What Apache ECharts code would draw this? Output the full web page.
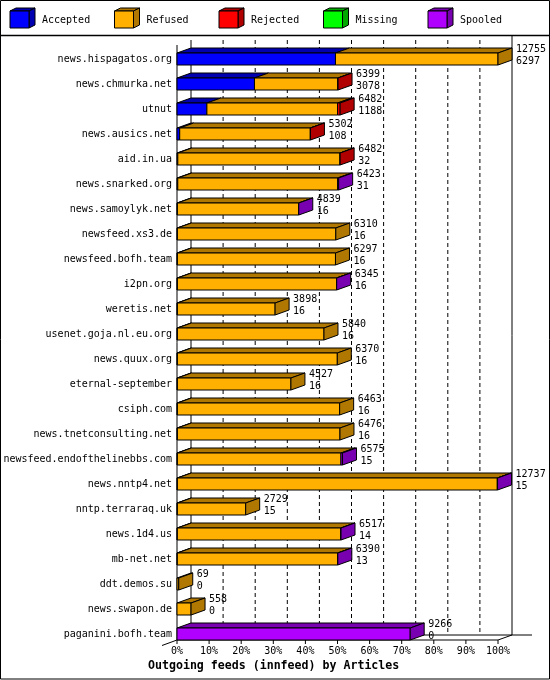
<!DOCTYPE html>
<html>
<head>
<meta charset="utf-8">
<script src="https://cdn.jsdelivr.net/npm/echarts@6/dist/echarts.min.js"></script>
<style>
html,body{margin:0;padding:0;background:#fff;}
#chart{width:550px;height:680px;}
</style>
</head>
<body>
<div id="chart"></div>
<script>
// ---- data ----
const hosts = [
  'news.hispagatos.org','news.chmurka.net','utnut','news.ausics.net','aid.in.ua',
  'news.snarked.org','news.samoylyk.net','newsfeed.xs3.de','newsfeed.bofh.team','i2pn.org',
  'weretis.net','usenet.goja.nl.eu.org','news.quux.org','eternal-september','csiph.com',
  'news.tnetconsulting.net','newsfeed.endofthelinebbs.com','news.nntp4.net','nntp.terraraq.uk','news.1d4.us',
  'mb-net.net','ddt.demos.su','news.swapon.de','paganini.bofh.team'
];
const offered  = [12755,6399,6482,5302,6482,6423,4839,6310,6297,6345,3898,5840,6370,4527,6463,6476,6575,12737,2729,6517,6390,69,558,9266];
const accepted = [6297,3078,1188,108,32,31,16,16,16,16,16,16,16,16,16,16,15,15,15,14,13,0,0,0];
const refused  = [6458,3316,5194,5191,6448,6352,4820,6294,6281,6326,3882,5824,6354,4511,6447,6460,6500,12712,2714,6498,6372,69,558,0];
const rejected = [0,5,100,3,2,0,0,0,0,0,0,0,0,0,0,0,0,0,0,0,0,0,0,0];
const missing  = [0,0,0,0,0,0,0,0,0,0,0,0,0,0,0,0,0,0,0,0,0,0,0,0];
const spooled  = [0,0,0,0,0,40,3,0,0,3,0,0,0,0,0,0,60,10,0,5,5,0,0,9266];
const statusNames = ['Accepted','Refused','Rejected','Missing','Spooled'];
const frontColors = ['#0000ff','#ffb000','#ff0000','#00ff00','#b000ff'];
const darkColors  = ['#0000b0','#b07800','#b00000','#00a800','#7800b0'];
const tickPercents = [0,10,20,30,40,50,60,70,80,90,100];
const xTitle = 'Outgoing feeds (innfeed) by Articles';

// ---- derived ----
const FONT = '"DejaVu Sans Mono", monospace';
const DX = 14, DY = -5, HH = 6;
const maxOff = Math.max(...offered);
const seriesVals = [accepted, refused, rejected, missing, spooled];

function lastNonZero(i){
  let l = -1;
  for (let k = 0; k < seriesVals.length; k++) if (seriesVals[k][i] > 0) l = k;
  return l;
}

const segSeries = statusNames.map((name, k) => {
  const data = [];
  hosts.forEach((h, i) => {
    let start = 0;
    for (let j = 0; j < k; j++) start += seriesVals[j][i];
    const v = seriesVals[k][i];
    if (v > 0) data.push([i, start / maxOff * 100, (start + v) / maxOff * 100, lastNonZero(i) === k ? 1 : 0]);
  });
  return {
    type: 'custom', name: name, z: 3, clip: false,
    data: data,
    encode: { x: [1, 2], y: 0 },
    renderItem: function (params, api) {
      const ci = api.value(0), s = api.value(1), e = api.value(2), last = api.value(3);
      const p0 = api.coord([s, ci]), p1 = api.coord([e, ci]);
      const yc = p0[1];
      const st = { stroke: '#000', lineWidth: 1 };
      const children = [
        { type: 'polygon', shape: { points: [[p0[0], yc - HH], [p1[0], yc - HH], [p1[0] + DX, yc - HH + DY], [p0[0] + DX, yc - HH + DY]] },
          style: Object.assign({ fill: darkColors[k] }, st) },
        { type: 'rect', shape: { x: p0[0], y: yc - HH, width: p1[0] - p0[0], height: 2 * HH },
          style: Object.assign({ fill: frontColors[k] }, st) }
      ];
      if (last) {
        children.push({ type: 'polygon', shape: { points: [[p1[0], yc - HH], [p1[0] + DX, yc - HH + DY], [p1[0] + DX, yc + HH + DY], [p1[0], yc + HH]] },
          style: Object.assign({ fill: darkColors[k] }, st) });
      }
      return { type: 'group', children: children };
    }
  };
});

const labelSeries = {
  type: 'custom', name: 'labels', z: 4, clip: false,
  data: hosts.map((h, i) => [i, offered[i] / maxOff * 100, offered[i], accepted[i]]),
  encode: { x: 1, y: 0 },
  renderItem: function (params, api) {
    const p = api.coord([api.value(1), api.value(0)]);
    const x = p[0] + DX + 4;
    return { type: 'group', children: [
      { type: 'text', style: { text: String(api.value(2)), x: x, y: p[1] - 10, fill: '#000', font: '10px ' + FONT, align: 'left', verticalAlign: 'middle' } },
      { type: 'text', style: { text: String(api.value(3)), x: x, y: p[1] + 2, fill: '#000', font: '10px ' + FONT, align: 'left', verticalAlign: 'middle' } }
    ]};
  }
};

const frameSeries = {
  type: 'custom', name: 'frame', z: 1, clip: false, silent: true,
  data: [[0, 0]],
  renderItem: function (params, api) {
    const cs = params.coordSys;
    const last = hosts.length - 1;
    const yF = api.coord([0, last])[1] + HH;     // floor front edge
    const yTop = cs.y - 1.5;
    const x0 = api.coord([0, 0])[0], x100 = api.coord([100, 0])[0];
    const ch = [];
    const line = (a, b, c, d, dash) => ch.push({ type: 'line', shape: { x1: a, y1: b, x2: c, y2: d },
      style: { stroke: '#000', lineWidth: 1, lineDash: dash || null } });
    tickPercents.forEach(t => {
      const x = api.coord([t, 0])[0];
      if (t > 0 && t < 100) line(x + DX, yTop + DY, x + DX, yF + DY, [4, 3]);
      line(x, yF, x, yF + 4);
    });
    line(x0, yTop, x0, yF);
    line(x0 + DX, yTop + DY, x0 + DX, yF + DY);
    line(x100 + DX, 36, x100 + DX, yF + DY);
    line(x0, yF, x100, yF);
    line(x0 + DX, yF + DY, x100 + DX + 20, yF + DY);
    line(x100, yF, x100 + DX, yF + DY);
    line(x0 - 15, yF + 5.5, x0, yF);
    return { type: 'group', children: ch };
  }
};

// legend graphics
const legendGraphics = [];
statusNames.forEach((n, k) => {
  const x = 10 + k * 104.5, y = 11, w = 19, h = 17, dx = 6, dy = -3;
  legendGraphics.push({ type: 'polygon', shape: { points: [[x, y], [x + w, y], [x + w + dx, y + dy], [x + dx, y + dy]] }, style: { fill: darkColors[k], stroke: '#000', lineWidth: 1 } });
  legendGraphics.push({ type: 'polygon', shape: { points: [[x + w, y], [x + w + dx, y + dy], [x + w + dx, y + h + dy], [x + w, y + h]] }, style: { fill: darkColors[k], stroke: '#000', lineWidth: 1 } });
  legendGraphics.push({ type: 'rect', shape: { x: x, y: y, width: w, height: h }, style: { fill: frontColors[k], stroke: '#000', lineWidth: 1 } });
  legendGraphics.push({ type: 'text', style: { text: n, x: x + 32, y: y + h / 2 + 0.5, fill: '#000', font: '10px ' + FONT, verticalAlign: 'middle' } });
});
legendGraphics.push({ type: 'line', shape: { x1: 0, y1: 35.5, x2: 550, y2: 35.5 }, style: { stroke: '#000', lineWidth: 1.5 } });
legendGraphics.push({ type: 'rect', shape: { x: 0.5, y: 0.5, width: 549, height: 678.5 }, style: { fill: null, stroke: '#000', lineWidth: 1 } });

const chart = echarts.init(document.getElementById('chart'), null, { renderer: 'canvas' });
chart.setOption({
  animation: false,
  backgroundColor: '#fff',
  title: { text: xTitle, left: 148, top: 660, padding: 0, textStyle: { fontFamily: FONT, fontSize: 11.6, fontWeight: 'bold', color: '#000' } },
  graphic: legendGraphics,
  grid: { left: 177, right: 52, top: 46.5, bottom: 33.5 },
  xAxis: {
    type: 'value', min: 0, max: 100, interval: 10,
    axisLine: { show: false }, axisTick: { show: false }, splitLine: { show: false },
    axisLabel: { formatter: '{value}%', fontFamily: FONT, fontSize: 10, color: '#000', margin: 0 }
  },
  yAxis: {
    type: 'category', inverse: true, data: hosts,
    axisLine: { show: false }, axisTick: { show: false }, splitLine: { show: false },
    axisLabel: { fontFamily: FONT, fontSize: 10, color: '#000', margin: 5 }
  },
  series: [frameSeries].concat(segSeries, [labelSeries])
});
</script>
</body>
</html>
